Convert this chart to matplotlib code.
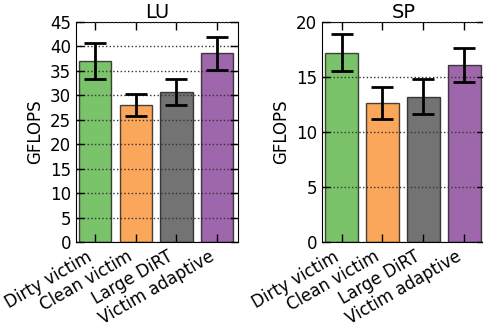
import matplotlib
matplotlib.use('Agg')
import matplotlib.pyplot as plt
import numpy as np

labels = ["Dirty victim", "Clean victim", "Large DiRT", "Victim adaptive"]
colors = ["#7AC36A", "#FAA75B", "#737373", "#9E67AB"]

lu_vals = [37.0, 28.0, 30.7, 38.6]
lu_err = [3.7, 2.3, 2.6, 3.4]
sp_vals = [17.2, 12.6, 13.2, 16.1]
sp_err = [1.7, 1.45, 1.6, 1.55]

plt.rcParams['font.size'] = 12

fig = plt.figure(figsize=(4.83, 3.32), dpi=100)
ax1 = fig.add_axes([0.157, 0.271, 0.336, 0.663])
ax2 = fig.add_axes([0.667, 0.271, 0.338, 0.663])


def draw(ax, vals, err, title, ymax, step):
    x = np.arange(len(vals))
    ax.bar(x, vals, 0.8, color=colors, edgecolor=(0, 0, 0, 0.7), linewidth=1, zorder=1)
    ax.errorbar(x, vals, yerr=err, fmt='none', ecolor='black', elinewidth=2,
                capsize=8, capthick=2, zorder=3)
    ax.set_xlim(-0.475, 3.52)
    ax.set_ylim(0, ymax)
    ax.set_yticks(np.arange(0, ymax + 1, step))
    ax.set_xticks(x)
    ax.set_xticklabels(labels, rotation=30, ha='right')
    ax.tick_params(direction='in', top=True, right=True, length=6, width=1)
    ax.tick_params(axis='x', pad=4)
    ax.yaxis.grid(True, linestyle=':', color='#333333', linewidth=1, zorder=2)
    ax.set_axisbelow(False)
    ax.set_ylabel("GFLOPS")
    ax.set_title(title, fontsize=14, pad=3)


draw(ax1, lu_vals, lu_err, "LU", 45, 5)
draw(ax2, sp_vals, sp_err, "SP", 20, 5)

fig.savefig("out.png", dpi=100)
